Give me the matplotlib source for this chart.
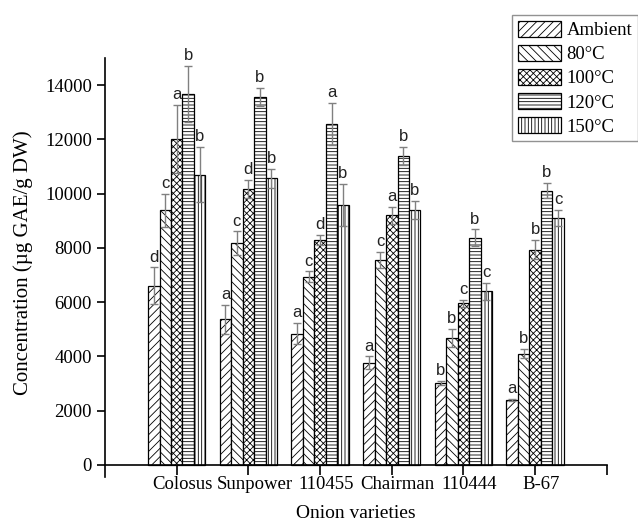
import numpy as np
import matplotlib.pyplot as plt
from matplotlib.transforms import ScaledTranslation

plt.rcParams['hatch.linewidth'] = 0.6
plt.rcParams['font.family'] = 'Liberation Serif'

# 数据
varieties = ['Colosus', 'Sunpower', '110455', 'Chairman', '110444', 'B-67']
treatments = ['Ambient', '80°C', '100°C', '120°C', '150°C']

ambient = [6600, 5370, 4840, 3770, 3010, 2390]
t80 = [9380, 8180, 6930, 7560, 4680, 4100]
t100 = [12020, 10180, 8290, 9200, 5960, 7930]
t120 = [13670, 13570, 12560, 11390, 8370, 10110]
t150 = [10700, 10570, 9570, 9400, 6390, 9100]

err_ambient = [680, 530, 400, 230, 80, 40]
err_80 = [620, 430, 200, 300, 340, 160]
err_100 = [1250, 330, 200, 320, 130, 360]
err_120 = [1030, 330, 770, 330, 310, 270]
err_150 = [1020, 350, 780, 320, 320, 300]

letters_ambient = ['d', 'a', 'a', 'a', 'b', 'a']
letters_80 = ['c', 'c', 'c', 'c', 'b', 'b']
letters_100 = ['a', 'd', 'd', 'a', 'c', 'b']
letters_120 = ['b', 'b', 'a', 'b', 'b', 'b']
letters_150 = ['b', 'b', 'b', 'b', 'c', 'c']

series = [ambient, t80, t100, t120, t150]
errors = [err_ambient, err_80, err_100, err_120, err_150]
letters = [letters_ambient, letters_80, letters_100, letters_120, letters_150]
hatches = ['////', '\\\\\\\\', 'xxxxx', '-----', '|||||']

fig = plt.figure(figsize=(6.38, 5.28), dpi=100)
ax = fig.add_axes([0.1646, 0.0966, 0.7866, 0.7936])

x = np.arange(1, len(varieties) + 1)
w = 0.16
for i in range(5):
    pos = x + (i - 2) * w
    ax.bar(pos, series[i], w, color='white', edgecolor='black', linewidth=0.9,
           hatch=hatches[i], label=treatments[i], zorder=2)
    ax.errorbar(pos, series[i], yerr=errors[i], fmt='none', ecolor='#808080',
                elinewidth=1.0, capsize=3, capthick=1.0, zorder=3)
    for px, v, e, t in zip(pos, series[i], errors[i], letters[i]):
        ax.annotate(t, (px, v + e), xytext=(0, 2), textcoords='offset points',
                    ha='center', va='bottom', fontsize=12, color='#222222',
                    family='Liberation Sans')

ax.set_xlim(0, 7)
ax.set_ylim(-450, 15000)
ax.spines['top'].set_visible(False)
ax.spines['right'].set_visible(False)
ax.spines['bottom'].set_position(('data', 0))
ax.spines['left'].set_linewidth(1.2)
ax.spines['bottom'].set_linewidth(1.2)

ax.set_xticks(list(x) + [7])
ax.set_xticklabels(varieties + [''], fontsize=13.5)
ax.set_yticks(np.arange(0, 14001, 2000))
ax.tick_params(axis='y', labelsize=13.5, length=6, width=1.2, direction='out')
ax.tick_params(axis='x', length=7, width=1.2, direction='out', pad=1)
# 标签略微右移
shift = ScaledTranslation(6 / 100, 0, fig.dpi_scale_trans)
for lbl in ax.get_xticklabels():
    lbl.set_transform(lbl.get_transform() + shift)

fig.text(23 / 638, 1 - 263 / 528, 'Concentration (µg GAE/g DW)', rotation=90,
         ha='center', va='center', fontsize=15)
fig.text(356 / 638, 1 - 513 / 528, 'Onion varieties', ha='center', va='center',
         fontsize=14)

leg = fig.legend(loc='upper left', bbox_to_anchor=(512 / 638, 1 - 15 / 528),
                 fontsize=13.5, frameon=True, fancybox=False, edgecolor='#777777',
                 handlelength=2.3, handleheight=0.95, handletextpad=0.3,
                 labelspacing=0.3, borderpad=0.3, borderaxespad=0)
leg.get_frame().set_linewidth(1.0)

fig.savefig('out.png', dpi=100)
